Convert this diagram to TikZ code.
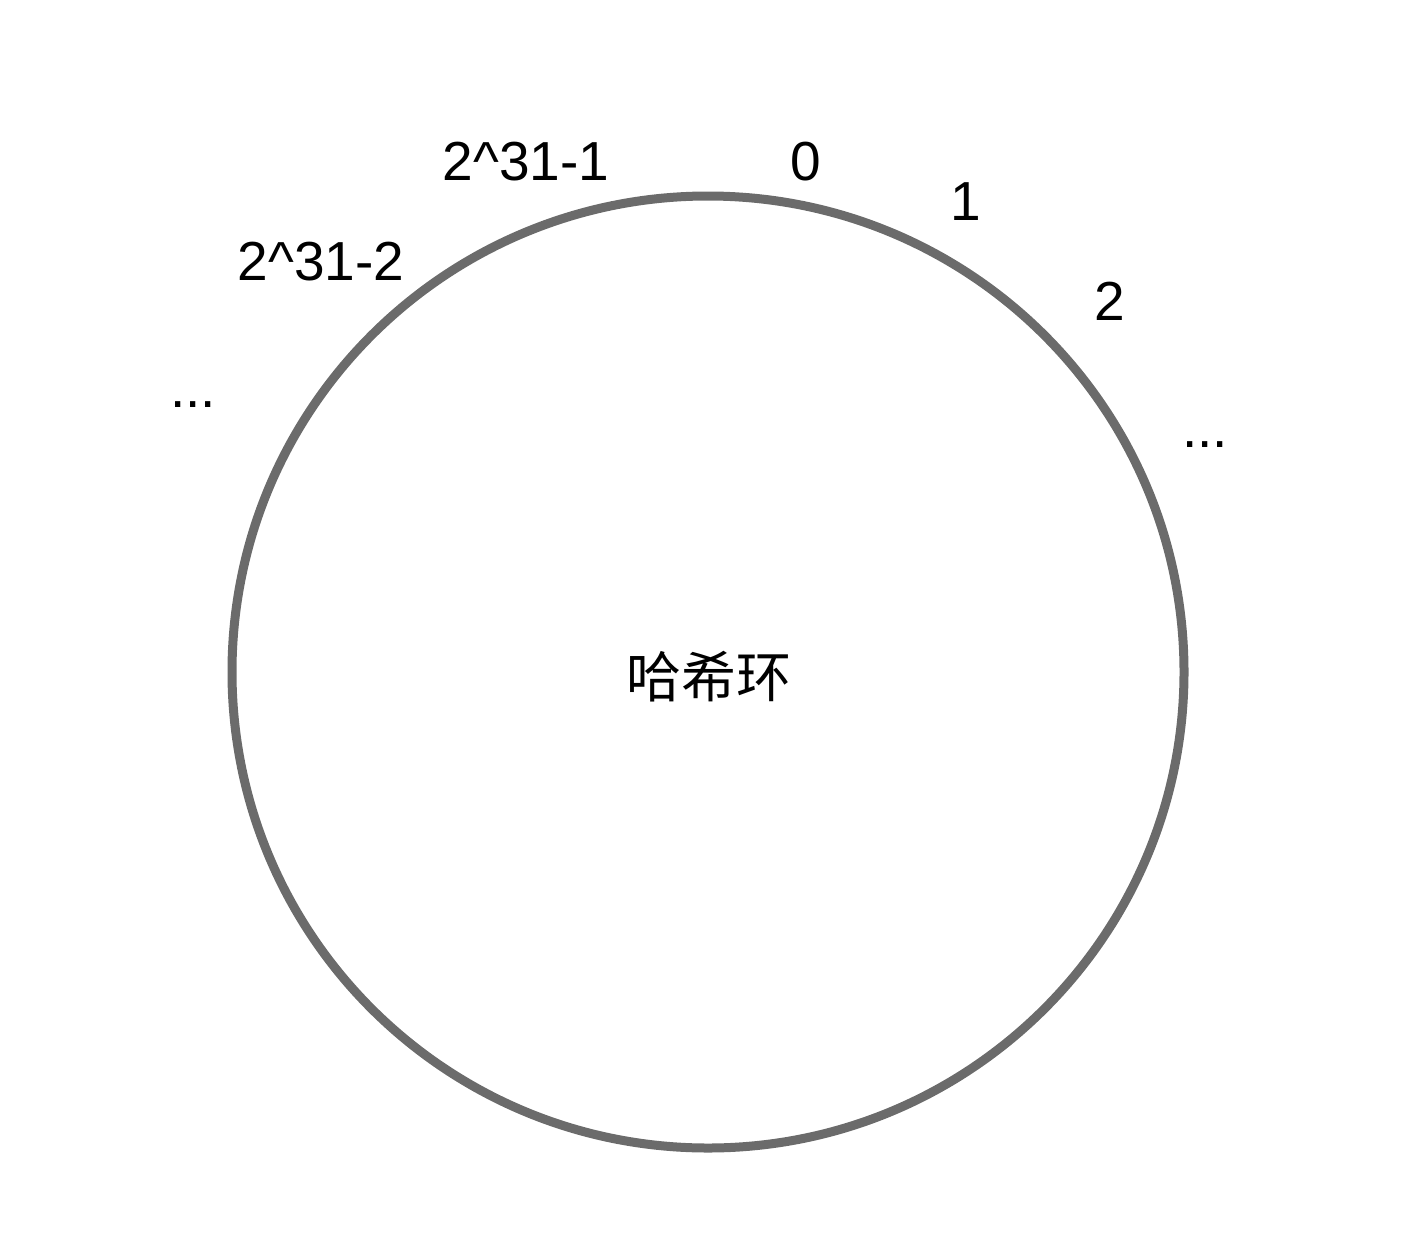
\documentclass[tikz,border=0pt]{standalone}
\usepackage{fontspec}
\setmainfont{Liberation Sans}
\newfontfamily\cjk{Noto Sans CJK SC}
\begin{document}
\begin{tikzpicture}[x=0.5pt,y=-0.5pt,
  lbl/.style={inner sep=0pt, anchor=base, font=\fontsize{27.5}{31}\selectfont},
  ring/.style={draw=ringgray, line width=4.5pt}]
\definecolor{ringgray}{HTML}{6B6B6B}
\useasboundingbox (0,0) rectangle (1422,1236);
\node[ring, circle, minimum size=476pt, inner sep=0pt] (ringc) at (708,672) {};
\node[lbl, font=\cjk\fontsize{27.5}{31}\selectfont] (title) at (709,697) {哈希环};
\node[lbl] (l0) at (806,180) {0};
\node[lbl] (l1) at (966,220) {1};
\node[lbl] (l2) at (1110,320) {2};
\node[lbl] (lm1) at (526,180) {2\^{}31-1};
\node[lbl] (lm2) at (321,280) {2\^{}31-2};
\node[lbl] (dr) at (1205,447) {...};
\node[lbl] (dl) at (193,407) {...};
\end{tikzpicture}
\end{document}
